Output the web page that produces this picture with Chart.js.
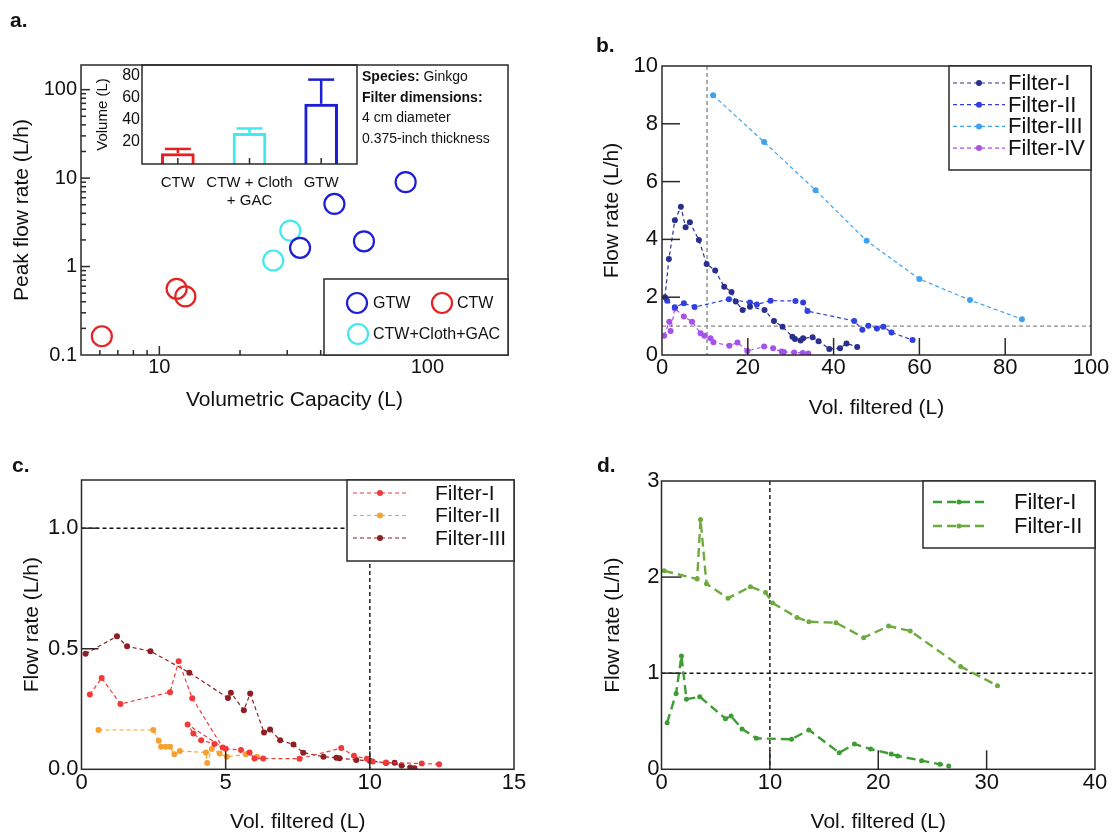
<!DOCTYPE html>
<html>
<head>
<meta charset="utf-8">
<title>Filter flow rates</title>
<script src="https://cdn.jsdelivr.net/npm/chart.js@4.4.1/dist/chart.umd.min.js"></script>
<style>
  body { margin: 0; background: #fff; font-family: 'Liberation Sans', Arial, sans-serif; color: #111; }
  #page { position: relative; width: 1117px; height: 835px; overflow: hidden; }
  #page canvas { position: absolute; left: 0; top: 0; }
  .tag { position: absolute; font-size: 21px; font-weight: bold; }
  #note { position: absolute; left: 362px; top: 66px; font-size: 14px; line-height: 20.5px; }
</style>
</head>
<body>
<div id="page">
  <canvas id="chartA" width="1117" height="835"></canvas>
  <canvas id="chartInset" width="1117" height="835"></canvas>
  <canvas id="chartB" width="1117" height="835"></canvas>
  <canvas id="chartC" width="1117" height="835"></canvas>
  <canvas id="chartD" width="1117" height="835"></canvas>
  <div class="tag" style="left:10px;top:8px">a.</div>
  <div class="tag" style="left:596px;top:33px">b.</div>
  <div class="tag" style="left:12px;top:453px">c.</div>
  <div class="tag" style="left:597px;top:453px">d.</div>
  <div id="note"><b>Species:</b> Ginkgo<br><b>Filter dimensions:</b><br>4 cm diameter<br>0.375-inch thickness</div>
</div>
<script>
// ---- a. peak flow rate vs volumetric capacity
const gtwCap = [33.5, 45, 58, 83];
const gtwPeak = [1.63, 5.1, 1.93, 9.0];
const ctwCap = [6.1, 11.6, 12.5];
const ctwPeak = [0.163, 0.56, 0.46];
const clothCap = [26.6, 30.8];
const clothPeak = [1.17, 2.55];
const aXTicks = [10, 100];
const aYTicks = [0.1, 1, 10, 100];

// inset: volume per filter type
const insetCats = [['CTW'], ['CTW + Cloth', '+ GAC'], ['GTW']];
const insetVol = [9.7, 28.1, 54.7];
const insetSd = [4, 4.2, 22];
const insetYTicks = [20, 40, 60, 80];

// ---- b. GTW filters
const bF1x = [0.7, 1.6, 3.0, 4.4, 5.5, 6.5, 8.6, 10.4, 12.4, 14.5, 16.2, 17.2, 18.8, 20.5, 23.9, 26.1, 28.1, 30.4, 31.0, 32.3, 32.9, 35.1, 36.5, 39.0, 41.5, 43.0, 45.5];
const bF1y = [2.0, 3.32, 4.66, 5.13, 4.42, 4.59, 3.98, 3.15, 2.92, 2.36, 2.18, 1.85, 1.56, 1.67, 1.56, 1.18, 0.98, 0.63, 0.55, 0.50, 0.58, 0.61, 0.48, 0.21, 0.23, 0.40, 0.28];
const bF2x = [1.2, 3.0, 5.1, 7.6, 15.6, 20.5, 22.1, 25.3, 31.1, 32.9, 33.9, 44.8, 46.7, 48.1, 50.1, 51.6, 53.5, 58.4];
const bF2y = [1.88, 1.65, 1.79, 1.66, 1.93, 1.82, 1.75, 1.88, 1.87, 1.82, 1.52, 1.18, 0.87, 1.01, 0.92, 0.98, 0.78, 0.52];
const bF3x = [11.9, 23.8, 35.8, 47.7, 60.0, 71.8, 83.9];
const bF3y = [8.99, 7.37, 5.70, 3.95, 2.63, 1.90, 1.24];
const bF4x = [0.5, 1.7, 2.0, 3.0, 5.1, 7.0, 9.0, 9.9, 11.3, 12.0, 15.7, 17.6, 19.9, 23.8, 25.9, 27.9, 28.4, 30.8, 32.8, 34.1];
const bF4y = [0.67, 1.15, 0.83, 1.61, 1.33, 1.15, 0.75, 0.67, 0.58, 0.44, 0.32, 0.43, 0.14, 0.29, 0.23, 0.12, 0.10, 0.09, 0.07, 0.05];
const bXTicks = [0, 20, 40, 60, 80, 100];
const bYTicks = [0, 2, 4, 6, 8, 10];

// ---- c. CTW filters
const cF1x = [0.29, 0.70, 1.35, 3.07, 3.37, 3.84, 4.9, 3.68, 3.88, 4.15, 4.61, 5.0, 5.53, 5.83, 6.0, 6.3, 7.56, 9.01, 9.45, 9.9, 10.1, 10.56, 11.8, 12.4];
const cF1y = [0.31, 0.379, 0.271, 0.320, 0.448, 0.295, 0.09, 0.186, 0.149, 0.121, 0.105, 0.085, 0.08, 0.07, 0.045, 0.045, 0.044, 0.088, 0.056, 0.044, 0.032, 0.028, 0.024, 0.021];
const cF2x = [0.59, 2.49, 2.68, 2.76, 2.92, 3.07, 3.22, 3.41, 4.32, 4.36, 4.52, 4.79, 5.04, 5.7, 6.09];
const cF2y = [0.163, 0.163, 0.118, 0.094, 0.094, 0.094, 0.062, 0.076, 0.07, 0.026, 0.084, 0.066, 0.052, 0.062, 0.052];
const cF3x = [0.14, 1.23, 1.58, 2.39, 3.74, 5.08, 5.18, 5.63, 5.85, 6.33, 6.54, 6.89, 7.35, 7.69, 8.39, 8.84, 8.95, 9.53, 10.0, 10.56, 10.86, 11.1, 11.4, 11.55];
const cF3y = [0.479, 0.552, 0.510, 0.490, 0.401, 0.296, 0.318, 0.245, 0.314, 0.153, 0.165, 0.120, 0.103, 0.069, 0.052, 0.048, 0.046, 0.039, 0.035, 0.026, 0.027, 0.016, 0.007, 0.004];
const cXTicks = [0, 5, 10, 15];
const cYTicks = [0, 0.5, 1.0];

// ---- d. CTW + Cloth + GAC filters
const dF1x = [0.52, 1.35, 1.84, 2.3, 3.53, 5.9, 6.42, 7.43, 8.76, 12.0, 13.6, 16.4, 17.8, 19.3, 21.2, 21.8, 24.0, 25.7, 26.5];
const dF1y = [0.485, 0.79, 1.18, 0.73, 0.755, 0.527, 0.554, 0.42, 0.322, 0.312, 0.41, 0.173, 0.263, 0.211, 0.159, 0.139, 0.09, 0.052, 0.035];
const dF2x = [0.25, 3.29, 3.6, 4.15, 6.14, 8.2, 9.6, 10.26, 12.5, 13.6, 16.1, 18.65, 20.95, 22.95, 27.6, 31.0];
const dF2y = [2.065, 1.98, 2.6, 1.93, 1.78, 1.90, 1.84, 1.73, 1.58, 1.535, 1.525, 1.37, 1.49, 1.44, 1.07, 0.87];
const dXTicks = [0, 10, 20, 30, 40];
const dYTicks = [0, 1, 2, 3];

const FONT = "'Liberation Sans', Arial, Helvetica, sans-serif";
Chart.defaults.font.family = FONT;
Chart.defaults.color = '#111';
Chart.defaults.animation = false;
Chart.defaults.responsive = false;
Chart.defaults.plugins.legend.display = false;
Chart.defaults.plugins.tooltip.enabled = false;

const pts = (xs, ys) => xs.map((x, i) => ({x, y: ys[i]}));
const setTicks = list => s => { s.ticks = list.map(v => ({value: v})); };
const fitY = w => s => { s.width = w; s.paddingTop = 0; s.paddingBottom = 0; };
const fitX = h => s => { s.height = h; s.paddingLeft = 0; s.paddingRight = 0; };

function seg(ctx, x0, y0, x1, y1) {
    ctx.beginPath();
    ctx.moveTo(x0, y0);
    ctx.lineTo(x1, y1);
    ctx.stroke();
}

function axis(o) {
    return {
        type: o.type || 'linear',
        min: o.min, max: o.max,
        grid: {display: false, drawTicks: false},
        border: {display: false},
        afterBuildTicks: o.ticks ? setTicks(o.ticks) : undefined,
        afterFit: o.w != null ? fitY(o.w) : fitX(o.h),
        ticks: {
            font: {size: o.fs}, padding: o.pad, color: '#111',
            maxRotation: 0, minRotation: 0, autoSkip: false,
            callback: o.fmt || (v => String(v))
        },
        title: {display: !!o.title, text: o.title, font: {size: o.tfs || 21}, padding: 0, color: '#111'}
    };
}

function logVals(s) {
    const out = [];
    for (let k = Math.floor(Math.log10(s.min)); k <= Math.ceil(Math.log10(s.max)); k++) {
        for (let m = 1; m < 10; m++) {
            const v = m * Math.pow(10, k);
            if (v > s.min * 1.0001 && v < s.max * 0.9999) out.push([v, m === 1]);
        }
    }
    return out;
}

// frame, inward ticks, dashed reference lines, error bars, boxed legend
const deco = {
    id: 'deco',
    beforeDatasetsDraw(chart, args, o) {
        const {ctx, chartArea: a, scales: {x, y}} = chart;
        if (!o.refColor) return;
        ctx.save();
        ctx.strokeStyle = o.refColor;
        ctx.lineWidth = 1.4;
        ctx.setLineDash([4, 3]);
        (o.refX || []).forEach(v => { const p = x.getPixelForValue(v); seg(ctx, p, a.top, p, a.bottom); });
        (o.refY || []).forEach(v => { const p = y.getPixelForValue(v); seg(ctx, a.left, p, a.right, p); });
        ctx.restore();
    },
    afterDatasetsDraw(chart, args, o) {
        const {ctx, chartArea: a, scales: {x, y}} = chart;
        ctx.save();
        ctx.strokeStyle = '#2a2a2a';
        ctx.lineWidth = 1.5;
        ctx.strokeRect(a.left, a.top, a.right - a.left, a.bottom - a.top);
        if (o.logMinor) {
            logVals(x).forEach(([v, big]) => { const p = x.getPixelForValue(v); seg(ctx, p, a.bottom, p, a.bottom - (big ? 9 : 5)); });
            logVals(y).forEach(([v, big]) => { const p = y.getPixelForValue(v); seg(ctx, a.left, p, a.left + (big ? 9 : 5), p); });
        }
        if (o.tickLen) {
            x.ticks.forEach((t, i) => {
                if (x.type === 'category' || (t.value > x.min && t.value < x.max)) {
                    const p = x.getPixelForTick(i);
                    seg(ctx, p, a.bottom, p, a.bottom - o.tickLen[0]);
                }
            });
            y.ticks.forEach((t, i) => {
                if (o.tickLen[1] && t.value > y.min && t.value < y.max) {
                    const p = y.getPixelForTick(i);
                    seg(ctx, a.left, p, a.left + o.tickLen[1], p);
                }
            });
        }
        if (o.err) {
            const ds = chart.data.datasets[0];
            const meta = chart.getDatasetMeta(0);
            ctx.lineWidth = 2.5;
            o.err.forEach((sd, i) => {
                const bar = meta.data[i];
                const top = y.getPixelForValue(ds.data[i] + sd);
                ctx.strokeStyle = ds.borderColor[i];
                seg(ctx, bar.x, bar.y, bar.x, top);
                seg(ctx, bar.x - o.cap / 2, top, bar.x + o.cap / 2, top);
            });
        }
        ctx.restore();
    },
    afterDraw(chart, args, o) {
        const L = o.legend;
        if (!L) return;
        const {ctx, chartArea: a} = chart;
        const bx = a.right - L.w;
        const by = L.anchor === 'br' ? a.bottom - L.h : a.top;
        ctx.save();
        ctx.fillStyle = '#fff';
        ctx.fillRect(bx, by, L.w, L.h);
        ctx.strokeStyle = '#2a2a2a';
        ctx.lineWidth = 1.5;
        ctx.strokeRect(bx, by, L.w, L.h);
        ctx.font = L.font;
        ctx.textBaseline = 'middle';
        chart.data.datasets.forEach((ds, i) => {
            if (L.items) {
                const [cx, cy, tx] = L.items[i];
                ctx.strokeStyle = ds.borderColor;
                ctx.lineWidth = ds.borderWidth;
                ctx.beginPath();
                ctx.arc(bx + cx, by + cy, ds.pointRadius, 0, Math.PI * 2);
                ctx.stroke();
                ctx.fillStyle = '#111';
                ctx.fillText(ds.label, bx + tx, by + cy + 1);
                return;
            }
            const yy = by + L.row0 + i * L.gap;
            ctx.strokeStyle = ds.borderColor;
            ctx.lineWidth = ds.borderWidth;
            ctx.setLineDash(ds.borderDash || []);
            seg(ctx, bx + L.x0, yy, bx + L.x1, yy);
            ctx.setLineDash([]);
            ctx.fillStyle = ds.borderColor;
            ctx.beginPath();
            ctx.arc(bx + (L.x0 + L.x1) / 2, yy, ds.pointRadius, 0, Math.PI * 2);
            ctx.fill();
            ctx.fillStyle = '#111';
            ctx.fillText(ds.label, bx + L.tx, yy + 1);
        });
        ctx.restore();
    }
};
Chart.register(deco);

function ring(label, xs, ys, color) {
    return {label, data: pts(xs, ys), borderColor: color, backgroundColor: 'rgba(0,0,0,0)',
            pointRadius: 10, borderWidth: 2.2};
}

function trace(label, xs, ys, color, w, dash, r) {
    return {label, data: pts(xs, ys), showLine: true, borderColor: color, backgroundColor: color,
            pointBackgroundColor: color, pointBorderWidth: 0, borderWidth: w, borderDash: dash, pointRadius: r};
}

// a.
new Chart(document.getElementById('chartA'), {
    type: 'scatter',
    data: {datasets: [
        ring('GTW', gtwCap, gtwPeak, '#1c1fd4'),
        ring('CTW', ctwCap, ctwPeak, '#e42320'),
        ring('CTW+Cloth+GAC', clothCap, clothPeak, '#42e9ee')
    ]},
    options: {
        layout: {padding: {left: 9.4, top: 65, right: 609, bottom: 422.4}, autoPadding: false},
        scales: {
            x: axis({type: 'logarithmic', min: 5.1, max: 200, ticks: aXTicks, h: 57.6, fs: 20, pad: 0, title: 'Volumetric Capacity (L)'}),
            y: axis({type: 'logarithmic', min: 0.1, max: 190, ticks: aYTicks, w: 71.6, fs: 20, pad: 4, title: 'Peak flow rate (L/h)'})
        },
        plugins: {deco: {logMinor: true,
            legend: {anchor: 'br', w: 184, h: 76, font: '16px ' + FONT, items: [[33, 24, 49], [118, 24, 133], [34, 55, 49]]}}}
    }
});

// inset
new Chart(document.getElementById('chartInset'), {
    type: 'bar',
    data: {labels: insetCats, datasets: [{
        data: insetVol,
        backgroundColor: 'rgba(255,255,255,0)',
        borderColor: ['#e42320', '#42e9ee', '#1c1fd4'],
        borderWidth: 3,
        barPercentage: 0.47, categoryPercentage: 1
    }]},
    options: {
        layout: {padding: {left: 94, top: 65, right: 760, bottom: 621}, autoPadding: false},
        scales: {
            x: axis({type: 'category', h: 50, fs: 15, pad: 10, fmt: function (v) { return this.getLabelForValue(v); }}),
            y: axis({min: 0, max: 90, ticks: insetYTicks, w: 48, fs: 16, pad: 2, title: 'Volume (L)', tfs: 15})
        },
        plugins: {deco: {tickLen: [6, 0], err: insetSd, cap: 26}}
    }
});

// b.
new Chart(document.getElementById('chartB'), {
    type: 'scatter',
    data: {datasets: [
        trace('Filter-I', bF1x, bF1y, '#2a2f8c', 1.2, [4, 3], 3),
        trace('Filter-II', bF2x, bF2y, '#2f3fe0', 1.2, [4, 3], 3),
        trace('Filter-III', bF3x, bF3y, '#3fa2f0', 1.2, [4, 3], 3),
        trace('Filter-IV', bF4x, bF4y, '#a551ea', 1.2, [4, 3], 3)
    ]},
    options: {
        layout: {padding: {left: 599.4, top: 66, right: 26, bottom: 414.4}, autoPadding: false},
        scales: {
            x: axis({min: 0, max: 100, ticks: bXTicks, h: 65.6, fs: 22, pad: 0, title: 'Vol. filtered (L)'}),
            y: axis({min: 0, max: 10, ticks: bYTicks, w: 62.6, fs: 22, pad: 4, title: 'Flow rate (L/h)'})
        },
        plugins: {deco: {tickLen: [17, 18], refColor: '#8a8a8a', refX: [10.5], refY: [1],
            legend: {anchor: 'tr', w: 142, h: 104, row0: 17, gap: 21.7, x0: 4, x1: 56, tx: 59, font: '22px ' + FONT}}}
    }
});

// c.
new Chart(document.getElementById('chartC'), {
    type: 'scatter',
    data: {datasets: [
        trace('Filter-I', cF1x, cF1y, '#f03a3a', 1.2, [4, 3], 3),
        trace('Filter-II', cF2x, cF2y, '#f5a031', 1.2, [4, 3], 3),
        trace('Filter-III', cF3x, cF3y, '#8e1f25', 1.2, [4, 3], 3)
    ]},
    options: {
        layout: {padding: {left: 19.4, top: 480, right: 603, bottom: 0.4}, autoPadding: false},
        scales: {
            x: axis({min: 0, max: 15, ticks: cXTicks, h: 65.3, fs: 22, pad: 0, title: 'Vol. filtered (L)'}),
            y: axis({min: 0, max: 1.2, ticks: cYTicks, w: 62.1, fs: 22, pad: 3, title: 'Flow rate (L/h)', fmt: v => v.toFixed(1)})
        },
        plugins: {deco: {tickLen: [18, 17], refColor: '#111', refX: [10], refY: [1],
            legend: {anchor: 'tr', w: 167, h: 81, row0: 13, gap: 22.5, x0: 6, x1: 60, tx: 88, font: '21px ' + FONT}}}
    }
});

// d.
new Chart(document.getElementById('chartD'), {
    type: 'scatter',
    data: {datasets: [
        trace('Filter-I', dF1x, dF1y, '#3d9c33', 2.4, [9, 5], 2.5),
        trace('Filter-II', dF2x, dF2y, '#6eaa40', 2.4, [9, 5], 2.5)
    ]},
    options: {
        layout: {padding: {left: 600.4, top: 481, right: 22, bottom: 0.4}, autoPadding: false},
        scales: {
            x: axis({min: 0, max: 40, ticks: dXTicks, h: 65.3, fs: 22, pad: 0, title: 'Vol. filtered (L)'}),
            y: axis({min: 0, max: 3, ticks: dYTicks, w: 61.1, fs: 22, pad: 2, title: 'Flow rate (L/h)'})
        },
        plugins: {deco: {tickLen: [19, 20], refColor: '#111', refX: [10], refY: [1],
            legend: {anchor: 'tr', w: 172, h: 67, row0: 21, gap: 24, x0: 10, x1: 62, tx: 91, font: '22px ' + FONT}}}
    }
});
</script>
</body>
</html>
